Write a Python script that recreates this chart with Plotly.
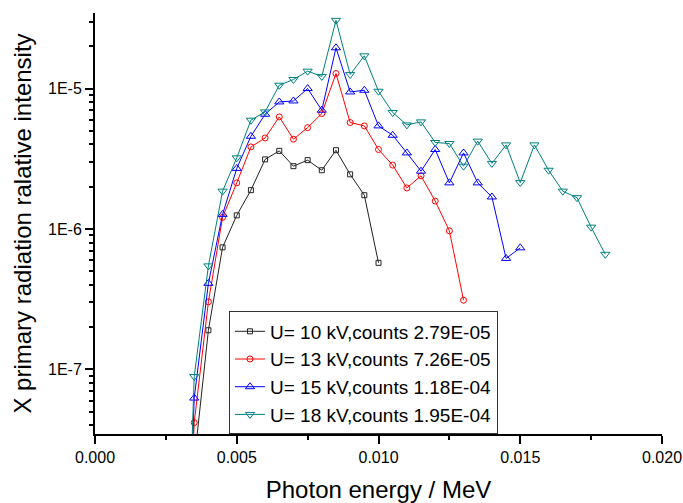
import plotly.graph_objects as go

# Photon energy grid (MeV)
energy = [0.0030, 0.0035, 0.0040, 0.0045, 0.0050, 0.0055, 0.0060, 0.0065,
          0.0070, 0.0075, 0.0080, 0.0085, 0.0090, 0.0095, 0.0100, 0.0105,
          0.0110, 0.0115, 0.0120, 0.0125, 0.0130, 0.0135, 0.0140, 0.0145,
          0.0150, 0.0155, 0.0160, 0.0165, 0.0170, 0.0175, 0.0180]

i_10kv = [1e-10, 2.2e-8, 1.9e-7, 7.4e-7, 1.25e-6, 1.89e-6, 3.13e-6, 3.6e-6,
          2.8e-6, 3.09e-6, 2.62e-6, 3.64e-6, 2.45e-6, 1.74e-6, 5.74e-7]

i_13kv = [1e-10, 4.18e-8, 3.03e-7, 1.21e-6, 2.13e-6, 3.84e-6, 4.45e-6, 6.28e-6,
          4.36e-6, 5.27e-6, 6.64e-6, 1.28e-5, 5.73e-6, 5.42e-6, 3.68e-6, 2.85e-6,
          1.96e-6, 2.39e-6, 1.58e-6, 9.7e-7, 3.11e-7]

i_15kv = [1e-10, 6.25e-8, 4.1e-7, 1.27e-6, 2.70e-6, 4.57e-6, 6.56e-6, 8.03e-6,
          8.16e-6, 1.0e-5, 7.01e-6, 1.95e-5, 9.46e-6, 9.72e-6, 5.42e-6, 4.65e-6,
          3.48e-6, 2.58e-6, 3.68e-6, 2.13e-6, 3.48e-6, 2.13e-6, 1.69e-6, 6.17e-7,
          7.34e-7]

i_18kv = [1e-10, 8.9e-8, 5.46e-7, 1.86e-6, 3.21e-6, 5.95e-6, 6.82e-6, 1.056e-5,
          1.16e-5, 1.33e-5, 1.22e-5, 3.06e-5, 1.26e-5, 1.71e-5, 9.57e-6, 6.75e-6,
          5.51e-6, 5.79e-6, 4.13e-6, 4.06e-6, 2.80e-6, 4.22e-6, 2.93e-6, 3.97e-6,
          2.14e-6, 3.97e-6, 2.62e-6, 1.86e-6, 1.67e-6, 1.03e-6, 6.6e-7]

series_names = ["U= 10 kV,counts 2.79E-05", "U= 13 kV,counts 7.26E-05",
                "U= 15 kV,counts 1.18E-04", "U= 18 kV,counts 1.95E-04"]
series_values = [i_10kv, i_13kv, i_15kv, i_18kv]
series_colors = ["#222222", "#FF0000", "#0000FF", "#008080"]
series_symbols = ["square-open", "circle-open", "triangle-up-open", "triangle-down-open"]
series_sizes = [5, 6, 8, 8]

y_tickvals = [1e-7, 1e-6, 1e-5]
y_ticktext = ["1E-7", "1E-6", "1E-5"]

FONT = "Liberation Sans, Arial, sans-serif"

fig = go.Figure()
for name, vals, col, sym, sz in zip(series_names, series_values, series_colors,
                                     series_symbols, series_sizes):
    fig.add_trace(go.Scatter(
        x=energy[:len(vals)], y=vals, name=name, mode="lines+markers",
        line=dict(color=col, width=1),
        marker=dict(symbol=sym, size=sz, color=col, line=dict(color=col, width=1)),
    ))

fig.update_layout(
    width=683, height=503,
    margin=dict(l=95, r=21, t=13, b=69),
    paper_bgcolor="white", plot_bgcolor="white",
    font=dict(family=FONT, color="black", size=16),
    showlegend=True,
    legend=dict(
        x=0.2363, y=0.145, xanchor="left", yanchor="middle",
        bgcolor="white", bordercolor="#333333", borderwidth=1,
        font=dict(family=FONT, size=19, color="black"),
        tracegroupgap=0,
    ),
    xaxis=dict(
        range=[0, 0.020], tick0=0, dtick=0.005, tickformat=".3f",
        automargin=False,
        showgrid=False, zeroline=False,
        showline=True, linecolor="black", linewidth=2,
        ticks="outside", ticklen=8, tickwidth=2, tickcolor="black",
        minor=dict(ticks="outside", ticklen=4, tickwidth=1.5, dtick=0.0025,
                   tickcolor="black", showgrid=False),
        tickfont=dict(size=16, family=FONT),
        title=dict(text="Photon energy / MeV", font=dict(size=24, family=FONT),
                   standoff=22),
    ),
    yaxis=dict(
        type="log", range=[-7.46, -4.462],
        tickvals=y_tickvals, ticktext=y_ticktext,
        automargin=False,
        showgrid=False, zeroline=False,
        showline=True, linecolor="black", linewidth=2,
        ticks="outside", ticklen=8, tickwidth=2, tickcolor="black",
        minor=dict(ticks="outside", ticklen=4, tickwidth=1.5, dtick="D1",
                   tickcolor="black", showgrid=False),
        tickfont=dict(size=16, family=FONT),
        title=dict(text="X primary radiation ralative intensity",
                   font=dict(size=24, family=FONT), standoff=10),
    ),
)

fig.write_html(
    "out.html",
    config={"displayModeBar": False},
    post_script="document.body.style.margin='0';document.body.style.overflow='hidden';",
)
